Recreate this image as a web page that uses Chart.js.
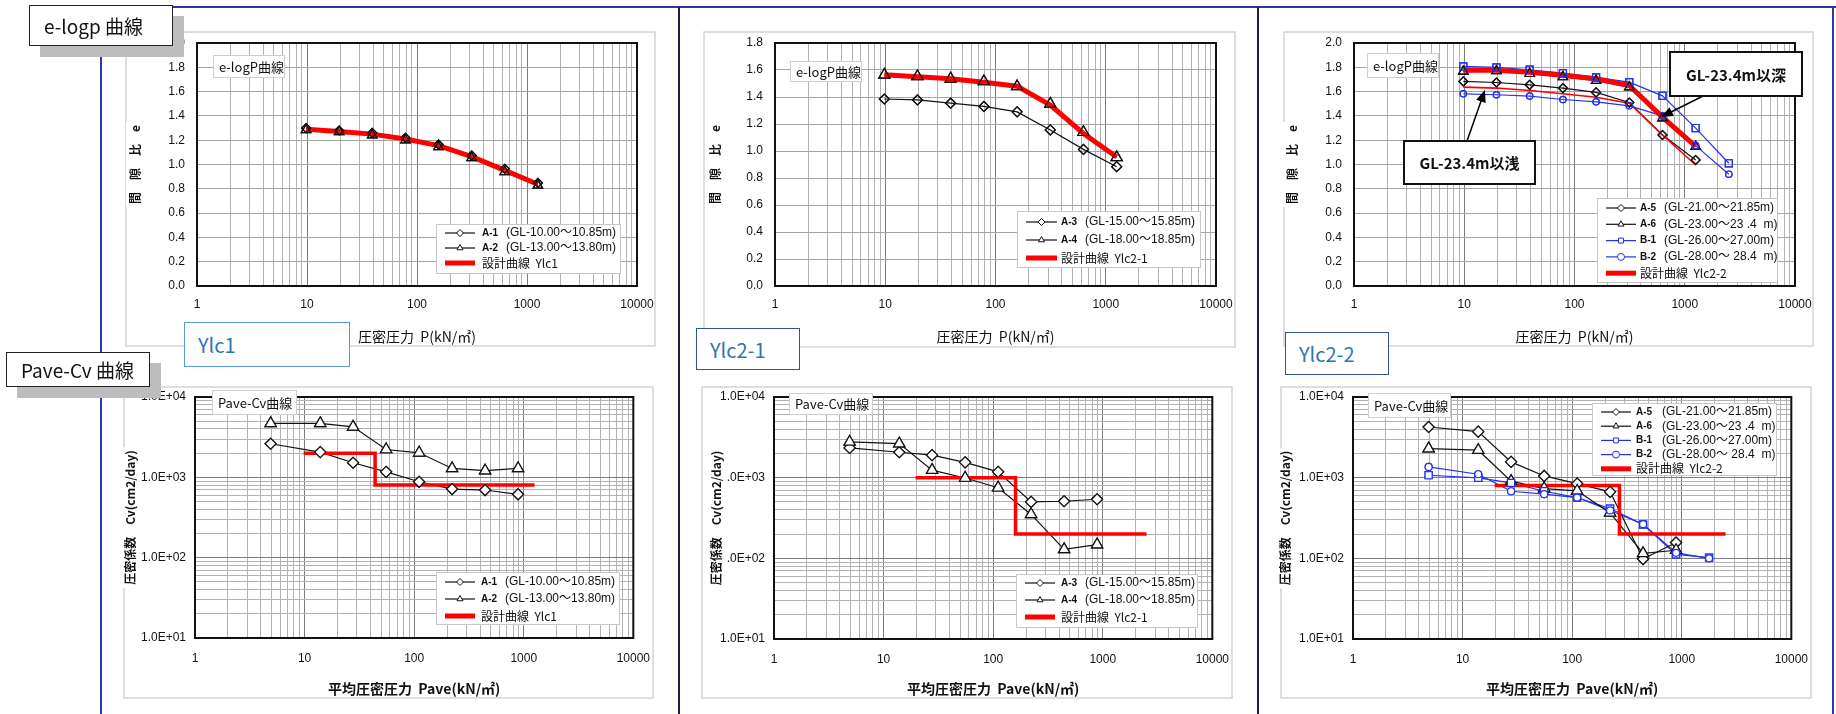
<!DOCTYPE html>
<html lang="ja">
<head>
<meta charset="utf-8">
<title>e-logP / Pave-Cv</title>
<script src="https://cdn.jsdelivr.net/npm/chart.js@4.4.1/dist/chart.umd.min.js"></script>
<style>
  body { margin:0; width:1836px; height:714px; position:relative; overflow:hidden; background:#fff; font-family:"Noto Sans CJK JP", sans-serif; }
  .rule { position:absolute; }
  .sect { position:absolute; z-index:5; box-sizing:border-box; background:#fff; border:1.5px solid #222; box-shadow:11px 11px 0 #bdbdbd; font-size:19px; color:#111; padding-left:14px; display:flex; align-items:center; }
  .ylc { position:absolute; z-index:5; box-sizing:border-box; background:#fff; border:1.5px solid #2f5597; color:#2e75b6; font-size:20px; padding-left:13px; display:flex; align-items:center; }
  canvas { position:absolute; }
</style>
</head>
<body>
<div class="rule" style="left:173px;top:6px;width:1663px;height:2px;background:#2b36b0"></div>
<div class="rule" style="left:100px;top:46px;width:2px;height:668px;background:#2b36b0"></div>
<div class="rule" style="left:678px;top:7px;width:2px;height:707px;background:#1c2050"></div>
<div class="rule" style="left:1257px;top:7px;width:2px;height:707px;background:#1c2050"></div>
<div class="rule" style="left:1832px;top:7px;width:2px;height:707px;background:#2b36b0"></div>

<div class="sect" style="left:29px;top:5px;width:144px;height:41px">e-logp 曲線</div>
<div class="sect" style="left:6px;top:352px;width:144px;height:35px">Pave-Cv 曲線</div>

<div class="ylc" style="left:184px;top:322px;width:166px;height:45px;border-color:#5b9bd5;border-width:1px">Ylc1</div>
<div class="ylc" style="left:696px;top:328px;width:104px;height:42px">Ylc2-1</div>
<div class="ylc" style="left:1285px;top:332px;width:104px;height:43px">Ylc2-2</div>

<script>
// consolidation pressure steps (kN/m2)
const P8 = [9.81, 19.6, 39.2, 78.5, 157, 314, 628, 1256];
const P9 = [9.81, 19.6, 39.2, 78.5, 157, 314, 628, 1256, 2512];
// mean pressure between steps
const Pave8 = [4.9, 13.9, 27.7, 55.5, 111, 222, 444, 888];
const Pave9 = [4.9, 13.9, 27.7, 55.5, 111, 222, 444, 888, 1776];

// void ratio e
const eA1 = [1.30, 1.28, 1.26, 1.22, 1.165, 1.075, 0.965, 0.848];
const eA2 = [1.285, 1.268, 1.242, 1.20, 1.145, 1.055, 0.94, 0.828];
const eYlc1 = [1.29, 1.272, 1.25, 1.21, 1.155, 1.065, 0.952, 0.838];
const eA3 = [1.385, 1.378, 1.354, 1.33, 1.29, 1.156, 1.012, 0.884];
const eA4 = [1.564, 1.552, 1.535, 1.515, 1.478, 1.349, 1.139, 0.953];
const eYlc21 = [1.565, 1.55, 1.535, 1.51, 1.48, 1.34, 1.13, 0.955];
const eA5 = [1.684, 1.675, 1.656, 1.629, 1.593, 1.51, 1.243, 1.037];
const eA6 = [1.766, 1.77, 1.747, 1.72, 1.69, 1.637, 1.381, 1.147];
const eB1 = [1.807, 1.799, 1.78, 1.752, 1.717, 1.678, 1.565, 1.30, 1.01];
const eB2 = [1.582, 1.574, 1.563, 1.535, 1.516, 1.483, 1.40, 1.155, 0.92];
const eYlc22deep = [1.775, 1.775, 1.76, 1.735, 1.705, 1.65, 1.39, 1.15];
const eYlc22shallow = [1.637, 1.629, 1.609, 1.582, 1.554, 1.505, 1.243, 0.996];

// Cv (cm2/day)
const cvA1 = [2620, 2060, 1520, 1170, 880, 715, 695, 615];
const cvA2 = [4700, 4700, 4250, 2220, 2020, 1290, 1210, 1290];
const cvA3 = [2340, 2065, 1900, 1550, 1180, 500, 510, 540];
const cvA4 = [2770, 2640, 1240, 990, 750, 350, 129, 148];
const cvA5 = [4250, 3720, 1570, 1050, 845, 667, 98, 157];
const cvA6 = [2290, 2190, 904, 733, 686, 366, 115, 126];
const cvB1 = [1072, 993, 861, 679, 567, 414, 262, 112, 102];
const cvB2 = [1359, 1103, 679, 624, 567, 392, 265, 117, 100];
// design Cv steps
const cvYlc1X = [9.81, 44, 44, 1256];
const cvYlc1 = [2000, 2000, 800, 800];
const cvYlc21X = [19.6, 160, 160, 2512];
const cvYlc21 = [1000, 1000, 200, 200];
const cvYlc22X = [19.6, 270, 270, 2512];
const cvYlc22 = [800, 800, 200, 200];

// axes
const xDecades = [1, 10, 100, 1000, 10000];
const xTickLabels = ['1', '10', '100', '1000', '10000'];
const cvDecades = [10, 100, 1000, 10000];
const cvTickLabels = ['1.0E+01', '1.0E+02', '1.0E+03', '1.0E+04'];

const samples = ['A-1', 'A-2', 'A-3', 'A-4', 'A-5', 'A-6', 'B-1', 'B-2'];
const depths = ['(GL-10.00～10.85m)', '(GL-13.00～13.80m)', '(GL-15.00～15.85m)', '(GL-18.00～18.85m)',
                '(GL-21.00～21.85m)', '(GL-23.00～23 .4  m)', '(GL-26.00～27.00m)', '(GL-28.00～ 28.4  m)'];
const designNames = ['設計曲線  Ylc1', '設計曲線  Ylc2-1', '設計曲線  Ylc2-2'];

const xTitleE = '圧密圧力  P(kN/㎡)';
const xTitleCv = '平均圧密圧力  Pave(kN/㎡)';
const yTitleE = '間　隙　比　e';
const yTitleCv = '圧密係数　Cv(cm2/day)';

const M = 10;
const BLACK = '#111', BLUE = '#2233ee', RED = '#ff0000', NOFILL = 'rgba(255,255,255,0)';
const TICK_FONT = '"Liberation Sans", "Noto Sans CJK JP", sans-serif';
const JP_FONT = '"Noto Sans CJK JP", sans-serif';
const GRID_MINOR = '#b2b2b2', GRID_MAJOR = '#7c7c7c';

function isDecade(v) { const l = Math.log10(v); return Math.abs(l - Math.round(l)) < 1e-9; }
// grid lines 1..9 inside every decade
function logGrid(decades) {
  const out = [];
  for (let i = 0; i < decades.length - 1; i++) for (let m = 1; m < 10; m++) out.push(m * decades[i]);
  out.push(decades[decades.length - 1]);
  return out;
}

function drawMarker(c, style, x, y, r) {
  c.beginPath();
  if (style === 'rectRot') { c.moveTo(x, y - r); c.lineTo(x + r, y); c.lineTo(x, y + r); c.lineTo(x - r, y); c.closePath(); }
  else if (style === 'triangle') { c.moveTo(x, y - r); c.lineTo(x + r * 0.866, y + r * 0.5); c.lineTo(x - r * 0.866, y + r * 0.5); c.closePath(); }
  else if (style === 'rect') { const s = r * 0.707; c.rect(x - s, y - s, 2 * s, 2 * s); }
  else c.arc(x, y, r, 0, Math.PI * 2);
  c.fill(); c.stroke();
}

const decor = {
  id: 'decor',
  beforeDraw(chart, args, o) {
    const c = chart.ctx, f = o.frame;
    c.save();
    c.translate(-o.ox, -o.oy);
    c.fillStyle = '#fff'; c.fillRect(f[0], f[1], f[2], f[3]);
    c.strokeStyle = '#d4d4d4'; c.lineWidth = 1.5; c.strokeRect(f[0], f[1], f[2], f[3]);
    c.restore();
  },
  // markers go back on top of the red design lines
  afterDatasetsDraw(chart) {
    chart.data.datasets.forEach((ds, i) => {
      if (!ds.pointRadius) return;
      chart.getDatasetMeta(i).data.forEach(p => p.draw(chart.ctx, chart.chartArea));
    });
  },
  afterDraw(chart, args, o) {
    const c = chart.ctx, a = chart.chartArea, sx = chart.scales.x, sy = chart.scales.y;
    c.save();
    c.strokeStyle = BLACK; c.lineWidth = 2;
    c.strokeRect(a.left, a.top, a.right - a.left, a.bottom - a.top);
    const tips = o.notes.map(n => [sx.getPixelForValue(n.tip[0]) + o.ox, sy.getPixelForValue(n.tip[1]) + o.oy]);
    const midX = (a.left + a.right) / 2 + o.ox, midY = (a.top + a.bottom) / 2 + o.oy;
    c.translate(-o.ox, -o.oy);
    c.textBaseline = 'middle';

    // label box in the plot
    const t = o.tag.box;
    c.fillStyle = '#fff'; c.fillRect(t[0], t[1], t[2], t[3]);
    c.strokeStyle = '#cfcfcf'; c.lineWidth = 1; c.strokeRect(t[0] + 0.5, t[1] + 0.5, t[2], t[3]);
    c.fillStyle = BLACK; c.font = '13px ' + JP_FONT; c.textAlign = 'left';
    c.fillText(o.tag.text, t[0] + 6, t[1] + t[3] / 2 + 1);

    // legend
    const L = o.legend, b = L.box;
    c.fillStyle = '#fff'; c.fillRect(b[0], b[1], b[2], b[3]);
    c.strokeStyle = '#c8c8c8'; c.lineWidth = 1; c.strokeRect(b[0] + 0.5, b[1] + 0.5, b[2], b[3]);
    L.items.forEach((it, i) => {
      const ds = chart.data.datasets[it.ds];
      const cy = b[1] + L.top + L.rowH * i;
      c.strokeStyle = ds.borderColor; c.lineWidth = it.text ? 5 : 1.2;
      c.beginPath(); c.moveTo(b[0] + 9, cy); c.lineTo(b[0] + 9 + L.sample, cy); c.stroke();
      c.fillStyle = BLACK; c.textAlign = 'left';
      if (it.text) {
        c.font = '12px ' + JP_FONT; c.fillText(it.text, b[0] + L.nameX, cy);
      } else {
        c.fillStyle = '#fff'; c.strokeStyle = ds.pointBorderColor; c.lineWidth = 1;
        drawMarker(c, ds.pointStyle, b[0] + 9 + L.sample / 2, cy, 3.5);
        c.fillStyle = BLACK;
        c.font = 'bold 10px ' + TICK_FONT; c.fillText(it.name, b[0] + L.nameX, cy);
        c.font = '12px ' + TICK_FONT; c.fillText(it.depth, b[0] + L.depthX, cy);
      }
    });

    // callouts with arrows
    o.notes.forEach((n, i) => {
      const [tx, ty] = tips[i], [ax, ay] = n.tail;
      const ang = Math.atan2(ty - ay, tx - ax);
      c.strokeStyle = '#000'; c.lineWidth = 1.5;
      c.beginPath(); c.moveTo(ax, ay); c.lineTo(tx - 9 * Math.cos(ang), ty - 9 * Math.sin(ang)); c.stroke();
      c.fillStyle = '#000'; c.beginPath(); c.moveTo(tx, ty);
      c.lineTo(tx - 12 * Math.cos(ang) + 5 * Math.sin(ang), ty - 12 * Math.sin(ang) - 5 * Math.cos(ang));
      c.lineTo(tx - 12 * Math.cos(ang) - 5 * Math.sin(ang), ty - 12 * Math.sin(ang) + 5 * Math.cos(ang));
      c.closePath(); c.fill();
      const q = n.box;
      c.fillStyle = '#fff'; c.fillRect(q[0], q[1], q[2], q[3]);
      c.strokeStyle = '#111'; c.lineWidth = 2; c.strokeRect(q[0], q[1], q[2], q[3]);
      c.fillStyle = '#111'; c.font = 'bold 15px ' + JP_FONT; c.textAlign = 'center';
      c.fillText(n.text, q[0] + q[2] / 2, q[1] + q[3] / 2 + 1);
    });

    // axis titles
    c.fillStyle = BLACK; c.textAlign = 'center';
    c.font = o.xTitle.font; c.fillText(o.xTitle.text, midX, o.xTitle.y);
    c.save();
    c.translate(o.yTitle.x, midY); c.rotate(-Math.PI / 2);
    c.font = o.yTitle.font;
    const w = c.measureText(o.yTitle.text).width;
    c.fillStyle = '#fff'; c.fillRect(-w / 2 - 3, -9, w + 6, 20);
    c.fillStyle = BLACK; c.fillText(o.yTitle.text, 0, 0);
    c.restore();
    c.restore();
  }
};

function xScale(height, pad) {
  return {
    type: 'logarithmic', position: 'bottom', min: xDecades[0], max: xDecades[xDecades.length - 1],
    afterBuildTicks: s => { s.ticks = logGrid(xDecades).map(v => ({ value: v })); },
    afterFit: s => { s.height = height; },
    ticks: { autoSkip: false, maxRotation: 0, minRotation: 0, padding: pad, color: BLACK,
      font: { family: TICK_FONT, size: 12 },
      callback: v => { const i = xDecades.indexOf(v); return i < 0 ? '' : xTickLabels[i]; } },
    grid: { drawTicks: false, color: c => (c.tick && isDecade(c.tick.value)) ? GRID_MAJOR : GRID_MINOR },
    border: { display: false }
  };
}

function eScale(max) {
  return width => ({
    type: 'linear', min: 0, max: max,
    afterFit: s => { s.width = width; },
    ticks: { stepSize: 0.2, padding: 12, color: BLACK, font: { family: TICK_FONT, size: 12 }, callback: v => v.toFixed(1) },
    grid: { drawTicks: false, color: '#a4a4a4' },
    border: { display: false }
  });
}

function cvScale(width) {
  return {
    type: 'logarithmic', min: cvDecades[0], max: cvDecades[cvDecades.length - 1],
    afterBuildTicks: s => { s.ticks = logGrid(cvDecades).map(v => ({ value: v })); },
    afterFit: s => { s.width = width; },
    ticks: { autoSkip: false, padding: 9, color: BLACK, font: { family: TICK_FONT, size: 12 },
      callback: v => { const i = cvDecades.indexOf(v); return i < 0 ? '' : cvTickLabels[i]; } },
    grid: { drawTicks: false, color: c => (c.tick && isDecade(c.tick.value)) ? GRID_MAJOR : GRID_MINOR },
    border: { display: false }
  };
}

function pts(xs, ys) { return xs.map((x, i) => ({ x: x, y: ys[i] })); }
function test(name, xs, ys, style, r, color, fill) {
  return { label: name, data: pts(xs, ys), borderColor: color, borderWidth: 1.2, pointStyle: style, pointRadius: r,
           pointBorderColor: color, pointBackgroundColor: fill, pointBorderWidth: 1.2, tension: 0, fill: false, order: 1 };
}
function design(name, xs, ys, w) {
  return { label: name, data: pts(xs, ys), borderColor: RED, borderWidth: w, pointRadius: 0, tension: 0,
           fill: false, borderJoinStyle: 'miter', order: 0 };
}
function rows(idx, dsIdx, designIdx, designText) {
  const r = idx.map((s, i) => ({ ds: dsIdx[i], name: samples[s], depth: depths[s] }));
  r.push({ ds: designIdx, text: designText });
  return r;
}

function makeChart(o) {
  const [fx, fy, fw, fh] = o.frame;
  const ox = fx - M, oy = fy - M, W = fw + 2 * M, H = fh + 2 * M;
  const [pl, pt, pr, pb] = o.plot;
  const cv = document.createElement('canvas');
  cv.width = W; cv.height = H;
  cv.style.left = ox + 'px'; cv.style.top = oy + 'px';
  document.body.appendChild(cv);
  new Chart(cv, {
    type: 'line',
    data: { datasets: o.datasets },
    options: {
      responsive: false, animation: false, events: [],
      layout: { padding: { top: pt - oy, right: ox + W - pr, left: 0, bottom: 0 } },
      plugins: {
        legend: { display: false }, tooltip: { enabled: false },
        decor: { ox: ox, oy: oy, frame: o.frame, tag: o.tag, legend: o.legend, notes: o.notes || [],
                 xTitle: o.xTitle, yTitle: o.yTitle }
      },
      scales: { x: xScale(oy + H - pb, o.xPad), y: o.yScale(pl - ox) }
    },
    plugins: [decor]
  });
}

// ---- e-logP ----
makeChart({
  frame: [126, 32, 529, 314], plot: [197, 43, 637, 286], xPad: 11, yScale: eScale(2.0),
  datasets: [
    test(samples[0], P8, eA1, 'rectRot', 4.5, BLACK, NOFILL),
    test(samples[1], P8, eA2, 'triangle', 5.5, BLACK, NOFILL),
    design(designNames[0], P8, eYlc1, 5)
  ],
  tag: { text: 'e-logP曲線', box: [213, 55, 71, 22] },
  legend: { box: [436, 224, 184, 49], top: 9, rowH: 15, sample: 30, nameX: 46, depthX: 70, items: rows([0, 1], [0, 1], 2, designNames[0]) },
  xTitle: { text: xTitleE, y: 337, font: '14px ' + JP_FONT },
  yTitle: { text: yTitleE, x: 135, font: 'bold 12px ' + JP_FONT }
});

makeChart({
  frame: [704, 32, 531, 315], plot: [775, 43, 1216, 286], xPad: 11, yScale: eScale(1.8),
  datasets: [
    test(samples[2], P8, eA3, 'rectRot', 5, BLACK, NOFILL),
    test(samples[3], P8, eA4, 'triangle', 6.5, BLACK, NOFILL),
    design(designNames[1], P8, eYlc21, 5)
  ],
  tag: { text: 'e-logP曲線', box: [790, 61, 71, 20] },
  legend: { box: [1017, 211, 183, 56], top: 11, rowH: 18, sample: 31, nameX: 44, depthX: 68, items: rows([2, 3], [0, 1], 2, designNames[1]) },
  xTitle: { text: xTitleE, y: 337, font: '14px ' + JP_FONT },
  yTitle: { text: yTitleE, x: 715, font: 'bold 12px ' + JP_FONT }
});

makeChart({
  frame: [1284, 32, 529, 314], plot: [1354, 43, 1795, 286], xPad: 11, yScale: eScale(2.0),
  datasets: [
    test(samples[4], P8, eA5, 'rectRot', 4.5, BLACK, NOFILL),
    test(samples[5], P8, eA6, 'triangle', 5.5, BLACK, NOFILL),
    test(samples[6], P9, eB1, 'rect', 5, BLUE, NOFILL),
    test(samples[7], P9, eB2, 'circle', 3.2, BLUE, NOFILL),
    design(designNames[2], P8, eYlc22deep, 5),
    design(designNames[2], P8, eYlc22shallow, 1.6)
  ],
  tag: { text: 'e-logP曲線', box: [1367, 53, 71, 24] },
  legend: { box: [1597, 198, 180, 84], top: 10, rowH: 16.3, sample: 30, nameX: 43, depthX: 67, items: rows([4, 5, 6, 7], [0, 1, 2, 3], 4, designNames[2]) },
  notes: [
    { text: 'GL-23.4m以浅', box: [1404, 141, 131, 43], tail: [1467, 141], tip: [15.4, 1.613] },
    { text: 'GL-23.4m以深', box: [1670, 52, 132, 44], tail: [1703, 96], tip: [609, 1.391] }
  ],
  xTitle: { text: xTitleE, y: 337, font: '14px ' + JP_FONT },
  yTitle: { text: yTitleE, x: 1292, font: 'bold 12px ' + JP_FONT }
});

// ---- Pave-Cv ----
makeChart({
  frame: [124, 387, 529, 311], plot: [195, 397, 635, 638], xPad: 13, yScale: cvScale,
  datasets: [
    test(samples[0], Pave8, cvA1, 'rectRot', 5.5, BLACK, '#fff'),
    test(samples[1], Pave8, cvA2, 'triangle', 6.5, BLACK, '#fff'),
    design(designNames[0], cvYlc1X, cvYlc1, 3.5)
  ],
  tag: { text: 'Pave-Cv曲線', box: [212, 390, 84, 24] },
  legend: { box: [436, 572, 183, 52], top: 10, rowH: 17, sample: 30, nameX: 45, depthX: 69, items: rows([0, 1], [0, 1], 2, designNames[0]) },
  xTitle: { text: xTitleCv, y: 689, font: 'bold 14px ' + JP_FONT },
  yTitle: { text: yTitleCv, x: 130, font: 'bold 12px ' + JP_FONT }
});

makeChart({
  frame: [702, 387, 530, 311], plot: [774, 397, 1214, 639], xPad: 13, yScale: cvScale,
  datasets: [
    test(samples[2], Pave8, cvA3, 'rectRot', 5.5, BLACK, '#fff'),
    test(samples[3], Pave8, cvA4, 'triangle', 6.5, BLACK, '#fff'),
    design(designNames[1], cvYlc21X, cvYlc21, 3.5)
  ],
  tag: { text: 'Pave-Cv曲線', box: [789, 393, 83, 21] },
  legend: { box: [1016, 574, 181, 53], top: 9, rowH: 17, sample: 30, nameX: 45, depthX: 69, items: rows([2, 3], [0, 1], 2, designNames[1]) },
  xTitle: { text: xTitleCv, y: 689, font: 'bold 14px ' + JP_FONT },
  yTitle: { text: yTitleCv, x: 716, font: 'bold 12px ' + JP_FONT }
});

makeChart({
  frame: [1281, 387, 530, 311], plot: [1353, 397, 1793, 639], xPad: 13, yScale: cvScale,
  datasets: [
    test(samples[4], Pave8, cvA5, 'rectRot', 5.5, BLACK, '#fff'),
    test(samples[5], Pave8, cvA6, 'triangle', 6.5, BLACK, '#fff'),
    test(samples[6], Pave9, cvB1, 'rect', 5, BLUE, '#fff'),
    test(samples[7], Pave9, cvB2, 'circle', 3.5, BLUE, '#fff'),
    design(designNames[2], cvYlc22X, cvYlc22, 3.5)
  ],
  tag: { text: 'Pave-Cv曲線', box: [1368, 393, 82, 24] },
  legend: { box: [1592, 403, 184, 72], top: 9, rowH: 14.2, sample: 30, nameX: 44, depthX: 70, items: rows([4, 5, 6, 7], [0, 1, 2, 3], 4, designNames[2]) },
  xTitle: { text: xTitleCv, y: 689, font: 'bold 14px ' + JP_FONT },
  yTitle: { text: yTitleCv, x: 1285, font: 'bold 12px ' + JP_FONT }
});
</script>
</body>
</html>
